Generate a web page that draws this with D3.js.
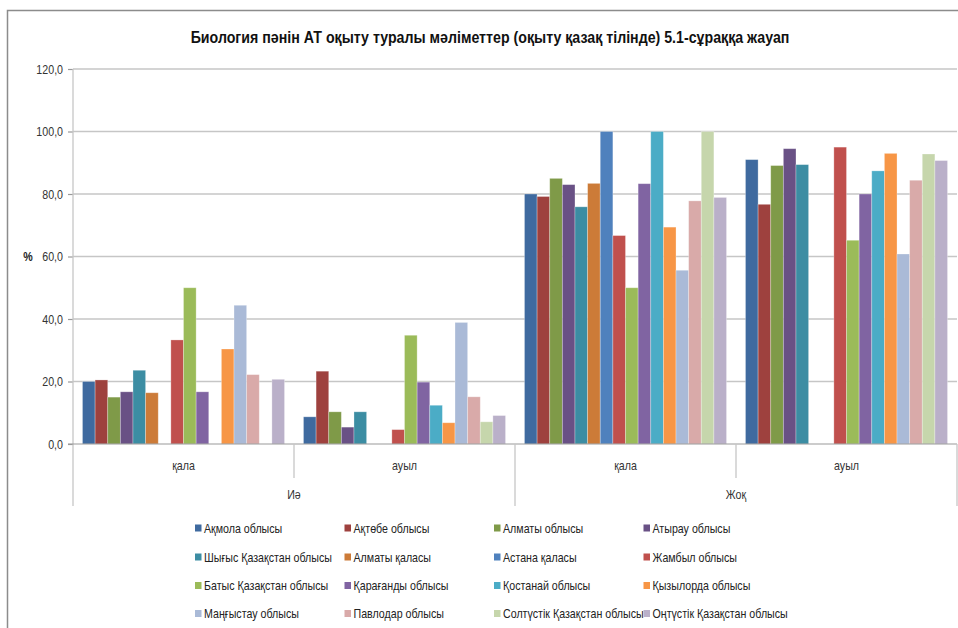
<!DOCTYPE html>
<html><head><meta charset="utf-8">
<script src="https://cdn.jsdelivr.net/npm/d3@7"></script>
<style>
html,body{margin:0;padding:0;background:#fff;}
svg{display:block;font-family:"Liberation Sans","Arial",sans-serif;}
</style></head>
<body>
<svg id="c" width="958" height="628"></svg>
<script>
const titleText = "Биология пәнін АТ оқыту туралы мәліметтер (оқыту қазақ тілінде) 5.1-сұраққа жауап";
const outerCats = ["Иә", "Жоқ"];
const innerCats = ["қала", "ауыл"];
const yTicks = [0, 20, 40, 60, 80, 100, 120];
const seriesNames = [
  "Ақмола облысы","Ақтөбе облысы","Алматы облысы","Атырау облысы",
  "Шығыс Қазақстан облысы","Алматы қаласы","Астана қаласы","Жамбыл облысы",
  "Батыс Қазақстан облысы","Қарағанды облысы","Қостанай облысы","Қызылорда облысы",
  "Маңғыстау облысы","Павлодар облысы","Солтүстік Қазақстан облысы","Оңтүстік Қазақстан облысы"
];
const seriesColors = ["#3F6A9F","#9E413E","#7F9A48","#695185","#3C8DA3","#CC7B38","#4F81BD","#C0504D",
  "#9BBB59","#8064A2","#4BACC6","#F79646","#AABAD7","#D9AAA9","#C6D6AC","#BAB0C9"];
// values per series: [Иә қала, Иә ауыл, Жоқ қала, Жоқ ауыл]
const vAkmola    = [20.0, 8.7, 80.0, 91.0];
const vAktobe    = [20.5, 23.3, 79.2, 76.7];
const vAlmatyObl = [15.0, 10.3, 85.0, 89.1];
const vAtyrau    = [16.7, 5.4, 83.0, 94.5];
const vShygys    = [23.6, 10.3, 75.9, 89.4];
const vAlmatyQ   = [16.4, null, 83.4, null];
const vAstana    = [null, null, 100.0, null];
const vZhambyl   = [33.3, 4.6, 66.7, 95.0];
const vBatys     = [50.0, 34.8, 50.0, 65.2];
const vKaraganda = [16.7, 19.8, 83.3, 80.0];
const vKostanay  = [null, 12.4, 100.0, 87.4];
const vKyzylorda = [30.4, 6.8, 69.4, 93.0];
const vMangystau = [44.4, 38.9, 55.6, 60.8];
const vPavlodar  = [22.2, 15.1, 77.8, 84.4];
const vSoltustik = [null, 7.1, 100.0, 92.8];
const vOntustik  = [20.7, 9.1, 78.9, 90.7];
const seriesValues = [vAkmola,vAktobe,vAlmatyObl,vAtyrau,vShygys,vAlmatyQ,vAstana,vZhambyl,
  vBatys,vKaraganda,vKostanay,vKyzylorda,vMangystau,vPavlodar,vSoltustik,vOntustik];

const groups = [];
outerCats.forEach(o => innerCats.forEach(i => groups.push(o + "|" + i)));

const svg = d3.select("#c");
const L = 73, R = 957, T = 69, B = 444;
const grid = "#c6c6c6";
const SX = 0.82; // horizontal condensing (Calibri-like look)

function ctext(parent, x, yy, str, opts) {
  const t = parent.append("text")
    .attr("transform", `translate(${x},${yy}) scale(${opts.sx || SX},1)`)
    .attr("text-anchor", opts.anchor || "start")
    .attr("font-size", opts.size || 13)
    .attr("fill", opts.fill || "#333")
    .text(str);
  if (opts.bold) t.attr("font-weight", "bold");
  return t;
}

// outer border
svg.append("rect").attr("x", 7.5).attr("y", 10.5).attr("width", 1000).attr("height", 1000)
  .attr("fill", "none").attr("stroke", "#8c8c8c").attr("stroke-width", 1.5);

const x0 = d3.scaleBand().domain(groups).range([L, R]).padding(0);
const x1 = d3.scaleBand().domain(d3.range(seriesNames.length)).range([0, x0.bandwidth()])
  .paddingInner(0).paddingOuter(0.75);
const y = d3.scaleLinear().domain([0, 120]).range([B, T]);

// gridlines
svg.append("g").selectAll("line").data(yTicks.filter(d => d > 0)).join("line")
  .attr("x1", L).attr("x2", R).attr("y1", d => y(d)).attr("y2", d => y(d))
  .attr("stroke", grid).attr("stroke-width", 1.3);

// y axis
const yAxis = d3.axisLeft(y).tickValues(yTicks).tickSize(5).tickPadding(4)
  .tickFormat(d => d3.format(".1f")(d).replace(".", ","));
const gy = svg.append("g").attr("transform", `translate(${L},0)`).call(yAxis);
gy.select(".domain").remove();
gy.selectAll(".tick line").attr("stroke", "#999").attr("stroke-width", 1.2);
gy.selectAll(".tick text").attr("font-size", 13).attr("fill", "#333")
  .attr("font-family", '"Liberation Sans",Arial,sans-serif')
  .attr("x", -10 / SX).attr("transform", `scale(${SX},1)`);
svg.append("line").attr("x1", L).attr("x2", L).attr("y1", T).attr("y2", 506)
  .attr("stroke", grid).attr("stroke-width", 1.3);

// bars
const flat = [];
seriesValues.forEach((vals, s) => vals.forEach((v, g) => { if (v != null) flat.push({s, g, v}); }));
svg.append("g").selectAll("rect").data(flat).join("rect")
  .attr("x", d => x0(groups[d.g]) + x1(d.s))
  .attr("width", x1.bandwidth())
  .attr("y", d => y(d.v))
  .attr("height", d => y(0) - y(d.v))
  .attr("fill", d => seriesColors[d.s])
  .attr("stroke", "#fff").attr("stroke-opacity", 0.35).attr("stroke-width", 0.8);

// baseline
svg.append("line").attr("x1", L - 5).attr("x2", R).attr("y1", B).attr("y2", B)
  .attr("stroke", "#999").attr("stroke-width", 1.2);

// category axis dividers and labels
groups.forEach((g, i) => {
  const xs = x0(g) + x0.bandwidth();
  const isOuter = (i % innerCats.length) === innerCats.length - 1;
  svg.append("line").attr("x1", xs).attr("x2", xs).attr("y1", B).attr("y2", isOuter ? 506 : 478)
    .attr("stroke", grid).attr("stroke-width", 1.3);
  ctext(svg, x0(g) + x0.bandwidth() / 2, 470, g.split("|")[1], {anchor: "middle"});
});
outerCats.forEach(o => {
  const xa = x0(o + "|" + innerCats[0]);
  const xb = x0(o + "|" + innerCats[innerCats.length - 1]) + x0.bandwidth();
  ctext(svg, (xa + xb) / 2, 499, o, {anchor: "middle"});
});

// y title
ctext(svg, 28, 261, "%", {anchor: "middle", bold: true, fill: "#222"});

// title
ctext(svg, 490, 43, titleText, {anchor: "middle", size: 17, bold: true, fill: "#111", sx: 0.835});

// legend
const legX = [195, 344.5, 494, 643.5];
const legY = [528, 557, 585.5, 613.5];
const lg = svg.append("g").selectAll("g").data(seriesNames).join("g")
  .attr("transform", (d, i) => `translate(${legX[i % 4]},${legY[Math.floor(i / 4)]})`);
lg.append("rect").attr("x", 0).attr("y", -3.5).attr("width", 6.5).attr("height", 7)
  .attr("fill", (d, i) => seriesColors[i]);
lg.each(function(d) { ctext(d3.select(this), 9, 4.5, d, {fill: "#222"}); });
</script>
</body></html>
